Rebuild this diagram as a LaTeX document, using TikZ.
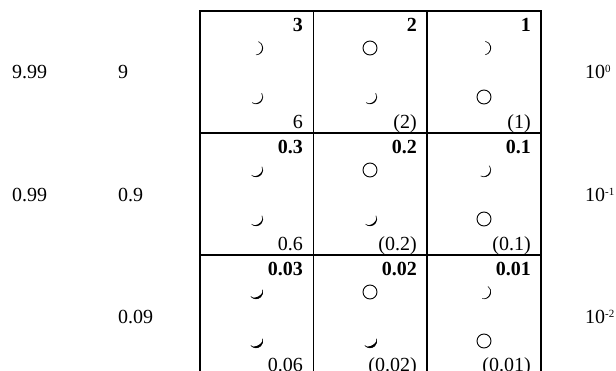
\documentclass[tikz,border=0pt]{standalone}
\usepackage{fontspec}
\setmainfont{Liberation Serif}
\newcommand\mymoon[4]{%
  \draw[line width=0.7pt,black!70,shift={(#1,#2)},rotate=#3] (80:6.8) arc[start angle=80,end angle=-80,radius=6.8];
  \fill[shift={(#1,#2)},rotate=#3] (75:7) arc[start angle=75,end angle=-75,radius=7]
    arc[start angle=-75,end angle=75,x radius={7*#4},y radius=7] -- cycle;}
\newcommand\mycirc[2]{\draw[line width=0.9pt] (#1,#2) circle[radius=7];}
\newcommand\supx[1]{\raisebox{6.5pt}{\fontsize{11}{12}\selectfont #1}}
\begin{document}
\begin{tikzpicture}[x=1pt,y=-1pt,
  lab/.style={inner sep=0pt,font=\fontsize{20}{24}\selectfont},
  toplab/.style={lab,anchor=base east,font=\fontsize{20}{24}\selectfont\bfseries},
  botlab/.style={lab,anchor=base east},
  sidelab/.style={lab,anchor=base west},
  grid/.style={line width=1.2pt}]
\useasboundingbox (0,0) rectangle (616,371);
\clip (0,0) rectangle (616,371);
% grid
\draw[grid] (200,380) -- (200,11) -- (541,11) -- (541,380);
\draw[grid] (313.5,11) -- (313.5,380);
\draw[grid] (427,11) -- (427,380);
\draw[grid] (200,133) -- (541,133);
\draw[grid] (200,255) -- (541,255);
% row 1
\node[toplab] (t11) at (303,32) {3};
\node[toplab] (t12) at (417,32) {2};
\node[toplab] (t13) at (531,32) {1};
\node[botlab] (b11) at (303,129) {6};
\node[botlab] (b12) at (417,129) {(2)};
\node[botlab] (b13) at (531,129) {(1)};
\mymoon{256}{48}{-10}{0.82}
\mymoon{256}{97}{-45}{0.8}
\mycirc{370}{48}
\mymoon{370}{97}{-45}{0.78}
\mymoon{484}{48}{0}{0.85}
\mycirc{484}{97}
% row 2
\node[toplab] (t21) at (303,154) {0.3};
\node[toplab] (t22) at (417,154) {0.2};
\node[toplab] (t23) at (531,154) {0.1};
\node[botlab] (b21) at (303,251) {0.6};
\node[botlab] (b22) at (417,251) {(0.2)};
\node[botlab] (b23) at (531,251) {(0.1)};
\mymoon{256}{170}{-50}{0.72}
\mymoon{256}{219}{-50}{0.72}
\mycirc{370}{170}
\mymoon{370}{219}{-50}{0.7}
\mymoon{484}{170}{-40}{0.8}
\mycirc{484}{219}
% row 3
\node[toplab] (t31) at (303,276) {0.03};
\node[toplab] (t32) at (417,276) {0.02};
\node[toplab] (t33) at (531,276) {0.01};
\node[botlab] (b31) at (303,372) {0.06};
\node[botlab] (b32) at (417,372) {(0.02)};
\node[botlab] (b33) at (531,372) {(0.01)};
\mymoon{256}{292}{-60}{0.62}
\mymoon{256}{341}{-60}{0.58}
\mycirc{370}{292}
\mymoon{370}{341}{-60}{0.58}
\mymoon{484}{292}{-25}{0.82}
\mycirc{484}{341}
% side labels
\node[sidelab] (l1a) at (12,79) {9.99};
\node[sidelab] (l1b) at (118,79) {9};
\node[sidelab] (l2a) at (12,202) {0.99};
\node[sidelab] (l2b) at (118,202) {0.9};
\node[sidelab] (l3b) at (118,324) {0.09};
\node[sidelab] (r1) at (585,79) {10\supx{0}};
\node[sidelab] (r2) at (585,202) {10\supx{-1}};
\node[sidelab] (r3) at (585,324) {10\supx{-2}};
\end{tikzpicture}
\end{document}
